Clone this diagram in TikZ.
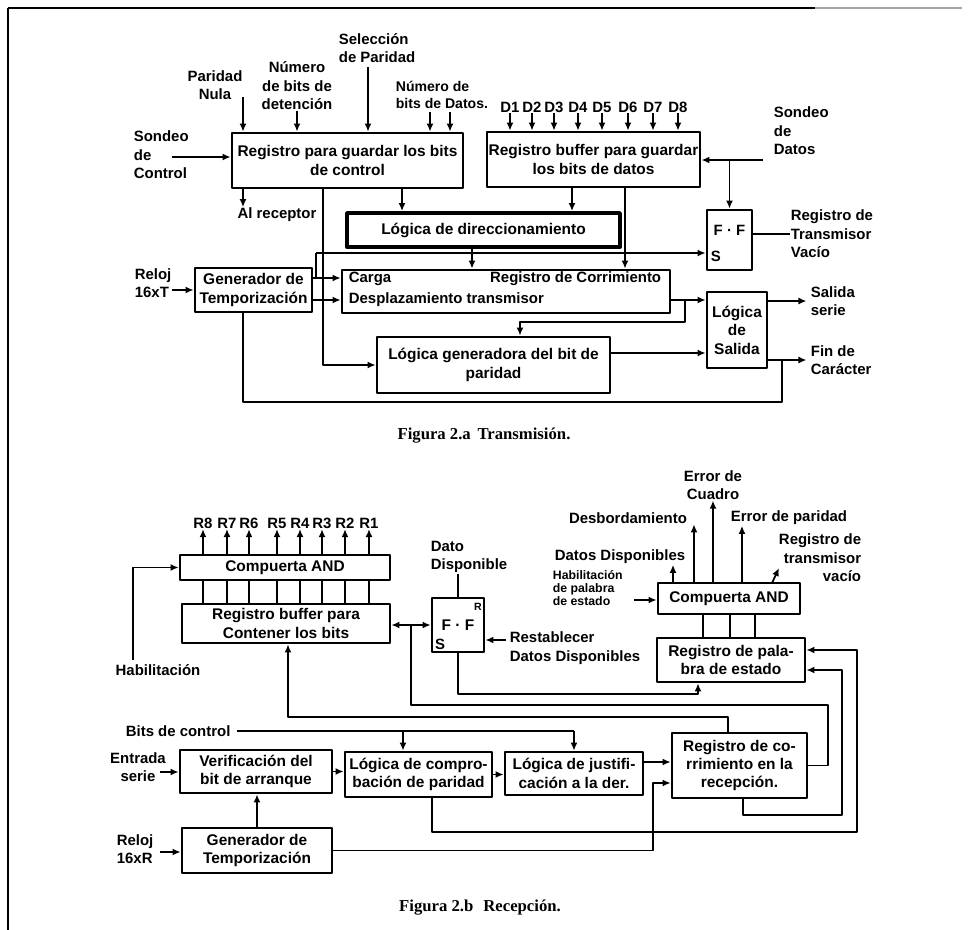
\documentclass[tikz,border=0pt]{standalone}
\usepackage{fontspec}
\setmainfont{Liberation Serif}
\setsansfont{Liberation Sans}
\usetikzlibrary{arrows.meta}

\tikzset{
  blk/.style={draw, line width=1.6pt, inner sep=1pt, align=center, font=\sffamily\bfseries\fontsize{8.8}{10.5}\selectfont},
  lbl/.style={inner sep=0pt, align=left},
  figcap/.style={inner sep=0pt, font=\rmfamily\bfseries\fontsize{9.5}{11}\selectfont},
}

\begin{document}
\begin{tikzpicture}[x=0.02cm, y=-0.02cm, >={Latex[length=1.6mm,width=1.4mm]}, line width=1pt, line join=round,
    font=\sffamily\bfseries\fontsize{8.5}{10.5}\selectfont]
  \useasboundingbox (0,0) rectangle (968,930);
  % marco
  \coordinate (fa) at (8,8);
  \coordinate (fb) at (815,8);
  \coordinate (fc) at (962,8);
  \coordinate (fd) at (8,930);
  \draw (fa) -- (fb);
  \draw[black!35] (fb) -- (fc);
  \draw (fa) -- (fd);

  % Figura 2.a
  \node[blk, minimum width=4.62cm, minimum height=1.10cm] (ctrl) at (347.5,160.5) {Registro para guardar los bits\\de control};
  \node[blk, minimum width=4.26cm, minimum height=1.10cm] (buf) at (593.5,159.5) {Registro buffer para guardar\\los bits de datos};
  \node[blk, line width=2.2pt, minimum width=5.46cm, minimum height=0.68cm] (dir) at (483.5,230) {Lógica de direccionamiento};
  \node[blk, minimum width=0.90cm, minimum height=1.20cm] (ff1) at (729.5,240) {};
  \node[blk, minimum width=6.56cm, minimum height=0.86cm] (corr) at (506,291.5) {};
  \node[blk, minimum width=2.34cm, minimum height=0.88cm] (gen1) at (253.5,290) {Generador de\\Temporización};
  \node[blk, minimum width=1.20cm, minimum height=1.52cm] (sal) at (737,330) {Lógica\\de\\Salida};
  \node[blk, minimum width=4.66cm, minimum height=1.12cm] (par) at (493.5,365) {Lógica generadora del bit de\\paridad};

  \node[lbl, anchor=west] (carga) at (348,279) {Carga};
  \node[lbl, anchor=east] (regc) at (662,279) {Registro de Corrimiento};
  \node[lbl, anchor=west] (desp) at (348,300) {Desplazamiento transmisor};
  \node[lbl] (fft) at (729.5,230) {F · F};
  \node[lbl, anchor=west] (ffs) at (710,256) {S};

  \node[lbl, align=center] (pnula) at (215,85) {Paridad\\Nula};
  \node[lbl, align=center] (ndet) at (297,86) {Número\\de bits de\\detención};
  \node[lbl, anchor=west] (psel) at (338,48) {Selección\\de Paridad};
  \node[lbl, anchor=west, font=\sffamily\bfseries\fontsize{8}{10}\selectfont] (ndat) at (395,95) {Número de\\bits de Datos.};
  \node[lbl, anchor=west] (sctl) at (133,155) {Sondeo\\de\\Control};
  \node[lbl] (alrec) at (277,215) {Al receptor};
  \node[lbl, anchor=west] (sdat) at (773,131) {Sondeo\\de\\Datos};
  \node[lbl, anchor=west] (rtv) at (790,234) {Registro de\\Transmisor\\Vacío};
  \node[lbl, anchor=west] (relT) at (134,283) {Reloj\\16xT};
  \node[lbl, anchor=west] (salser) at (810,301) {Salida\\serie};
  \node[lbl, anchor=west] (fin) at (810,360) {Fin de\\Carácter};

  \coordinate (kpn) at (243,97);
  \coordinate (ksel) at (368,67);
  \coordinate (kd1) at (430,112);
  \coordinate (kd2) at (450,112);
  \coordinate (ksc) at (172,157);
  \draw[->] (kpn) -- (kpn |- ctrl.north);
  \draw[->] (ndet.south) -- (ndet.south |- ctrl.north);
  \draw[->] (ksel) -- (ksel |- ctrl.north);
  \draw[->] (kd1) -- (kd1 |- ctrl.north);
  \draw[->] (kd2) -- (kd2 |- ctrl.north);
  \draw[->] (ksc) -- (ksc -| ctrl.west);
  \draw[->] (ctrl.south -| kpn) -- (kpn |- alrec.north);

  \foreach \i/\x in {1/510,2/532,3/554,4/578,5/602,6/628,7/653,8/678}{
    \node[lbl] (d\i) at (\x,107) {D\i};
    \draw[->] (d\i.south) -- (d\i.south |- buf.north);
  }

  \coordinate (xcd) at (402,0);
  \coordinate (xbd) at (572,0);
  \coordinate (xbs) at (625,0);
  \coordinate (xds) at (472,0);
  \coordinate (xcp) at (323,0);
  \draw[->] (ctrl.south -| xcd) -- (dir.north -| xcd);
  \draw[->] (buf.south -| xbd) -- (dir.north -| xbd);
  \draw[->] (buf.south -| xbs) -- (corr.north -| xbs);
  \draw[->] (dir.south -| xds) -- (corr.north -| xds);

  \coordinate (ksd) at (763,160);
  \draw[->] (ksd) -- (ksd -| buf.east);
  \draw[->] (ff1.north |- ksd) -- (ff1.north);
  \draw (ff1.east |- rtv.west) -- (rtv.west);

  \draw[->] (ctrl.south -| xcp) |- (par.west);
  \coordinate (kld) at (316,253);
  \coordinate (kcg) at (316,278);
  \coordinate (kdz) at (316,300);
  \draw[->] (kld) -- (kld -| ff1.west);
  \draw (kld) -- (kcg);
  \draw[->] (gen1.east |- kcg) -- (corr.west |- kcg);
  \draw[->] (gen1.east |- kdz) -- (corr.west |- kdz);
  \coordinate (krt) at (172,290);
  \draw[->] (krt) -- (krt -| gen1.west);

  \coordinate (ksh) at (685,300);
  \coordinate (kpp) at (520,322);
  \coordinate (kps) at (640,353);
  \draw[->] (corr.east |- ksh) -- (sal.west |- ksh);
  \draw[->] (ksh) |- (kpp) -- (kpp |- par.north);
  \draw[->] (par.east |- kps) -- (sal.west |- kps);
  \draw[->, shorten >=2pt] (sal.east |- salser.west) -- (salser.west);
  \draw[->, shorten >=2pt] (sal.east |- fin.west) -- (fin.west);
  \coordinate (kfin) at (782,360);
  \coordinate (kfb) at (782,402);
  \coordinate (xgf) at (243,0);
  \draw (kfin) -- (kfb) -| (gen1.south -| xgf);

  \node[figcap] (capa) at (484,436) {Figura 2.a\hspace{0.4em}Transmisión.};

  % Figura 2.b
  \node[blk, minimum width=4.20cm, minimum height=0.50cm] (and1) at (285,567.5) {Compuerta AND};
  \node[blk, minimum width=4.16cm, minimum height=0.78cm] (buf2) at (286,623.5) {Registro buffer para\\Contener los bits};
  \node[blk, minimum width=1.04cm, minimum height=1.08cm] (ff2) at (458,625) {F · F};
  \node[blk, minimum width=2.84cm, minimum height=0.62cm] (and2) at (729,598.5) {Compuerta AND};
  \node[blk, minimum width=2.96cm, minimum height=0.88cm] (stat) at (731,660) {Registro de pala-\\bra de estado};
  \node[blk, minimum width=3.04cm, minimum height=0.86cm] (verif) at (256,771.5) {Verificación del\\bit de arranque};
  \node[blk, minimum width=2.94cm, minimum height=0.90cm] (comp) at (418.5,774.5) {Lógica de compro-\\bación de paridad};
  \node[blk, minimum width=2.76cm, minimum height=0.86cm] (just) at (574,773.5) {Lógica de justifi-\\cación a la der.};
  \node[blk, minimum width=2.70cm, minimum height=1.30cm] (rshift) at (739.5,765.5) {Registro de co-\\rrimiento en la\\recepción.};
  \node[blk, minimum width=3.00cm, minimum height=0.90cm] (gen2) at (257,850.5) {Generador de\\Temporización};

  \node[lbl, font=\sffamily\bfseries\fontsize{6}{7}\selectfont] (ffr) at (478,607) {R};
  \node[lbl] (ffs2) at (440,644) {S};

  \foreach \i/\x in {8/203,7/227,6/249,5/277,4/300,3/322,2/345,1/369}{
    \node[lbl] (r\i) at (\x,523) {R\i};
    \draw[->] (and1.north -| r\i.south) -- (r\i.south);
    \draw (and1.south -| r\i.south) -- (buf2.north -| r\i.south);
  }

  \node[lbl] (hab) at (158,670) {Habilitación};
  \coordinate (khab) at (133,660);
  \draw[->] (khab) |- (and1.west);
  \node[lbl, anchor=west] (ddisp) at (430,557) {Dato\\Disponible};
  \draw (ff2.north) -- (ff2.north |- ddisp.south);
  \node[lbl, anchor=west] (rest) at (509,648) {Restablecer\\Datos Disponibles};
  \coordinate (krst) at (506,640);
  \draw[->] (krst) -- (krst -| ff2.east);

  \coordinate (kbf) at (411,625);
  \coordinate (krr) at (828,705);
  \draw (rshift.east) -| (krr) -| (kbf);
  \draw[<->] (buf2.east |- kbf) -- (ff2.west |- kbf);
  \coordinate (kst) at (698,694);
  \draw[->] (ff2.south) |- (kst) -- (kst |- stat.south);

  \foreach \x in {703,730,755}{
    \coordinate (xv) at (\x,0);
    \draw (and2.south -| xv) -- (stat.north -| xv);
  }

  \node[lbl] (ddis2) at (620,557) {Datos Disponibles};
  \node[lbl] (desb) at (628,518) {Desbordamiento};
  \node[lbl, align=center] (ecua) at (713,485) {Error de\\Cuadro};
  \node[lbl, anchor=west] (epar) at (730,518) {Error de paridad};
  \node[lbl, align=right, anchor=east] (rtv2) at (862,558) {Registro de\\transmisor\\vacío};
  \node[lbl, anchor=west, font=\sffamily\bfseries\fontsize{7}{7.5}\selectfont] (hpe) at (552,588) {Habilitación\\de palabra\\de estado};
  \coordinate (kdd) at (673,0);
  \coordinate (kdb) at (694,0);
  \coordinate (kep) at (742,0);
  \coordinate (krv0) at (772,583);
  \coordinate (krv1) at (779,568);
  \coordinate (khp) at (634,600);
  \draw[->] (and2.north -| kdd) -- (kdd |- ddis2.south);
  \draw[->] (and2.north -| kdb) -- (kdb |- desb.south);
  \draw[->] (and2.north -| ecua.south) -- (ecua.south);
  \draw[->] (and2.north -| kep) -- (kep |- epar.south);
  \draw[->] (krv0) -- (krv1);
  \draw[->] (khp) -- (khp -| and2.west);

  \node[lbl, anchor=west] (bc) at (125,731) {Bits de control};
  \coordinate (xbc) at (403,0);
  \draw[shorten <=3pt] (bc.east) -- (bc.east -| just.north);
  \draw[->] (bc.east -| xbc) -- (comp.north -| xbc);
  \draw[->] (bc.east -| just.north) -- (just.north);

  \node[lbl, align=center] (ent) at (138,767) {Entrada\\serie};
  \coordinate (ken) at (160,772);
  \draw[->] (ken) -- (ken -| verif.west);
  \draw[->] (verif.east) -- (verif.east -| comp.west);
  \draw[->] (comp.east) -- (comp.east -| just.west);
  \coordinate (kj) at (650,762);
  \draw[->] (just.east |- kj) -- (kj -| rshift.west);
  \draw[->] (gen2.north) -- (gen2.north |- verif.south);
  \node[lbl, anchor=west] (relR) at (116,849) {Reloj\\16xR};
  \coordinate (krR) at (160,852);
  \draw[->] (krR) -- (krR -| gen2.west);
  \coordinate (kg) at (653,783);
  \draw[->] (gen2.east) -| (kg) -- (kg -| rshift.west);

  \coordinate (kcs) at (432,832);
  \coordinate (kpe) at (857,650);
  \draw[->] (comp.south -| kcs) -- (kcs) -| (kpe) -- (kpe -| stat.east);
  \coordinate (ksb) at (743,815);
  \coordinate (kse) at (842,670);
  \draw[->] (rshift.south -| ksb) -- (ksb) -| (kse) -- (kse -| stat.east);
  \coordinate (kdt) at (728,717);
  \coordinate (kbb) at (288,717);
  \draw[->] (rshift.north -| kdt) -- (kdt) -- (kbb) -- (buf2.south -| kbb);

  \node[figcap] (capb) at (480,908) {Figura 2.b\hspace{0.6em}Recepción.};
\end{tikzpicture}
\end{document}
